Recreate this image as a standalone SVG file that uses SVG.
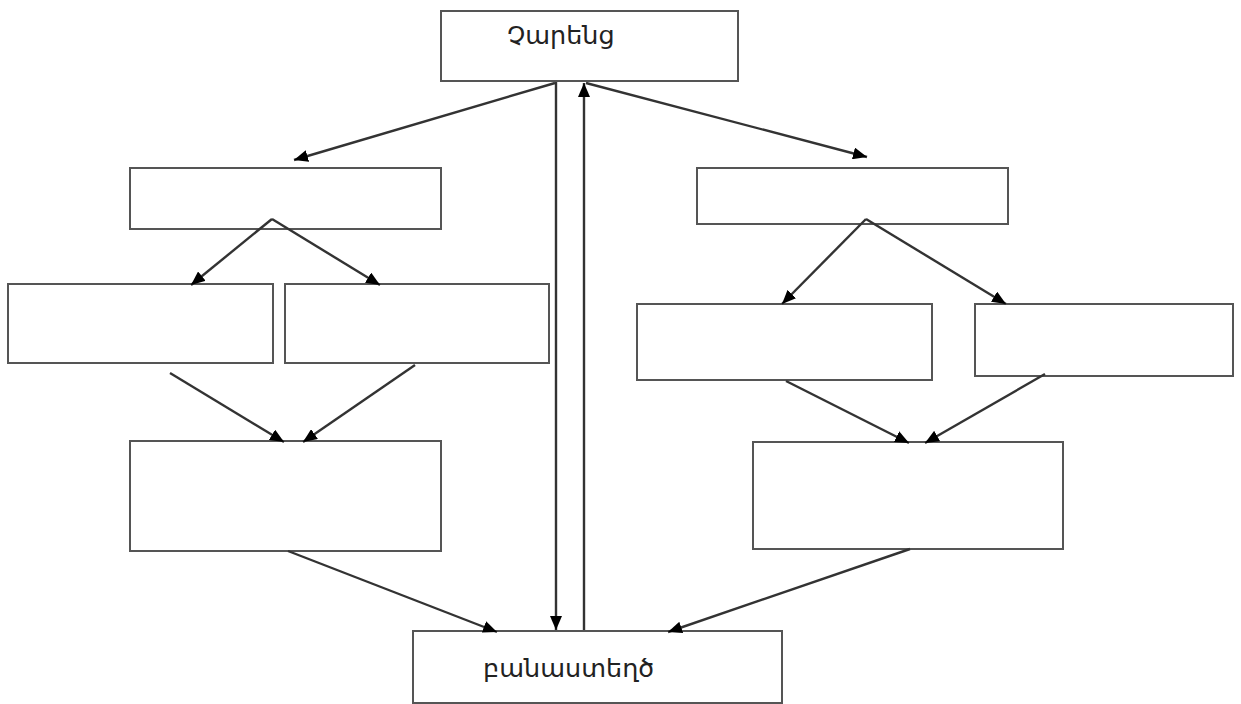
<svg xmlns="http://www.w3.org/2000/svg" width="1241" height="704" viewBox="0 0 1241 704">
<style>
.box{fill:#fff;stroke:#555;stroke-width:2}
.ln{stroke:#333;stroke-width:2.4;fill:none;marker-end:url(#ah)}
.t{font-family:"DejaVu Sans","Noto Sans",sans-serif;font-size:25.5px;fill:#222}
</style>
<defs>
<marker id="ah" viewBox="0 0 14 12" refX="14" refY="6" markerWidth="14" markerHeight="12" markerUnits="userSpaceOnUse" orient="auto">
<path d="M0,0 L14,6 L0,12 z" fill="#000"/>
</marker>
</defs>
<rect width="1241" height="704" fill="#fff"/>
<g id="charents"><rect class="box" x="441" y="11" width="297" height="70"/><text class="t" x="507" y="44">Չարենց</text></g>
<g id="left-top"><rect class="box" x="130" y="168" width="311" height="61"/></g>
<g id="right-top"><rect class="box" x="697" y="168" width="311" height="56"/></g>
<g id="left-a"><rect class="box" x="8" y="284" width="265" height="79"/></g>
<g id="left-b"><rect class="box" x="285" y="284" width="264" height="79"/></g>
<g id="right-a"><rect class="box" x="637" y="304" width="295" height="76"/></g>
<g id="right-b"><rect class="box" x="975" y="304" width="258" height="72"/></g>
<g id="left-big"><rect class="box" x="130" y="441" width="311" height="110"/></g>
<g id="right-big"><rect class="box" x="753" y="442" width="310" height="107"/></g>
<g id="poet"><rect class="box" x="413" y="631" width="369" height="72"/><text class="t" x="483" y="677">բանաստեղծ</text></g>
<g id="connectors">
<line class="ln" x1="556" y1="82" x2="556" y2="630"/>
<line class="ln" x1="584" y1="630" x2="584" y2="83"/>
<line class="ln" x1="555" y1="83" x2="294" y2="160"/>
<line class="ln" x1="586" y1="83" x2="867" y2="157"/>
<line class="ln" x1="272" y1="219" x2="191" y2="285"/>
<line class="ln" x1="272" y1="219" x2="380" y2="285"/>
<line class="ln" x1="866" y1="219" x2="782" y2="304"/>
<line class="ln" x1="866" y1="219" x2="1006" y2="304"/>
<line class="ln" x1="170" y1="373" x2="284" y2="442"/>
<line class="ln" x1="415" y1="365" x2="303" y2="442"/>
<line class="ln" x1="786" y1="381" x2="909" y2="443"/>
<line class="ln" x1="1045" y1="374" x2="925" y2="443"/>
<line class="ln" x1="288" y1="551" x2="497" y2="632"/>
<line class="ln" x1="910" y1="549" x2="668" y2="632"/>
</g>
</svg>
